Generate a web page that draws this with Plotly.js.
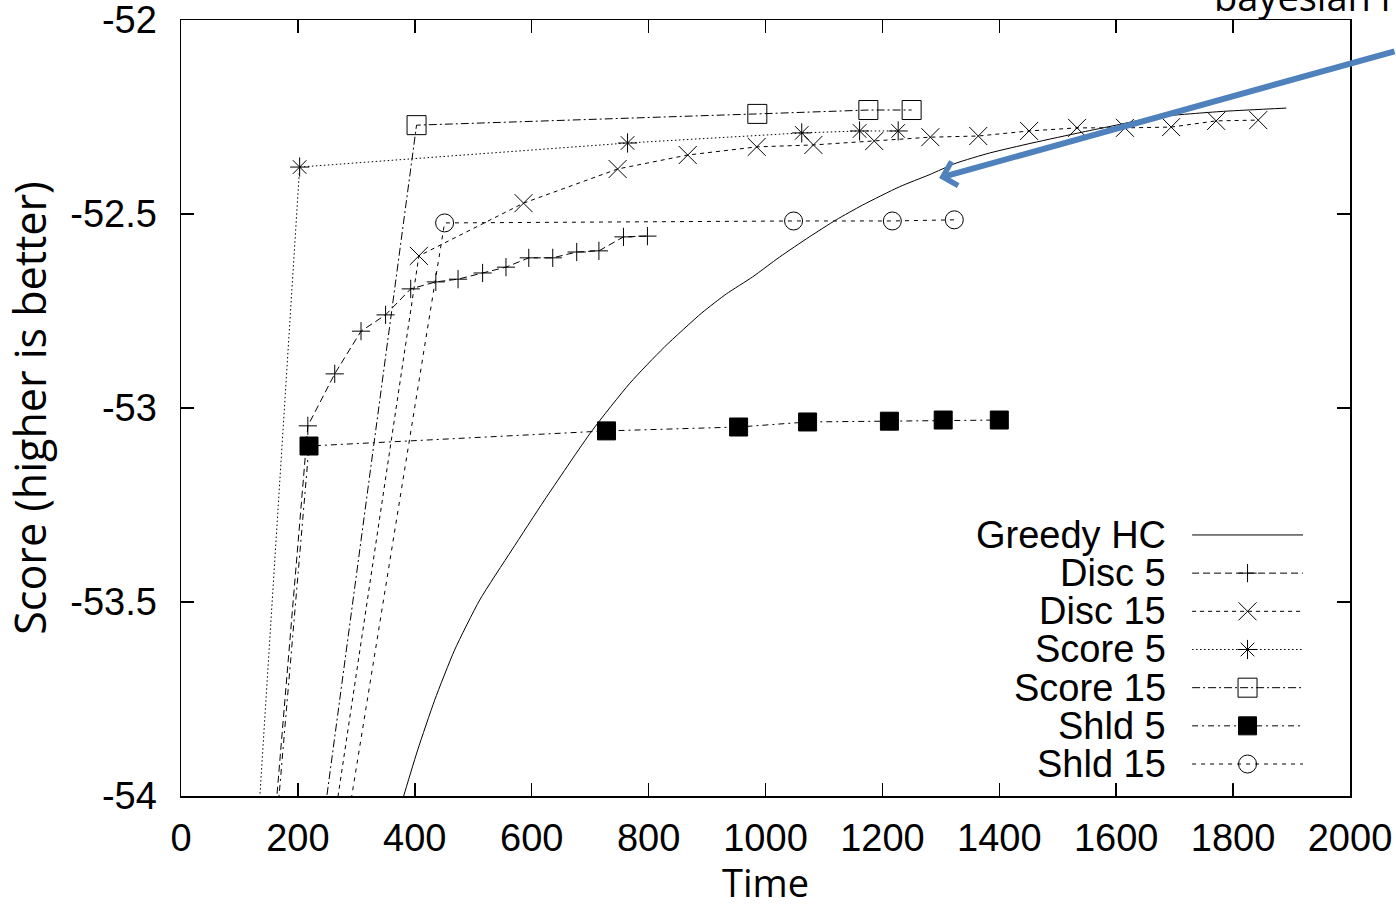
<!DOCTYPE html>
<html><head><meta charset="utf-8">
<script src="https://cdn.plot.ly/plotly-3.0.1.min.js"></script>
<style>html,body{margin:0;padding:0;background:#fff}</style>
</head><body>
<div id="chart" style="width:1396px;height:908px"></div>
<script>
// ---- data ----
const seriesNames = ["Greedy HC", "Disc 5", "Disc 15", "Score 5", "Score 15", "Shld 5", "Shld 15"];

const greedyTime  = [359, 381, 405, 434, 468, 511, 566, 622, 703, 768, 827, 891, 933, 978, 1024, 1075, 1121, 1166, 1229, 1280, 1326, 1383, 1456, 1542, 1600, 1668, 1742, 1788, 1891];
const greedyScore = [-54.116, -54.000, -53.881, -53.753, -53.624, -53.495, -53.366, -53.237, -53.059, -52.936, -52.843, -52.755, -52.706, -52.662, -52.611, -52.559, -52.515, -52.477, -52.430, -52.399, -52.369, -52.343, -52.317, -52.289, -52.271, -52.250, -52.240, -52.235, -52.227];

const disc5Time  = [53, 217, 263, 308, 350, 393, 436, 474, 516, 556, 595, 636, 677, 715, 757, 798];
const disc5Score = [-56, -53.046, -52.912, -52.802, -52.760, -52.693, -52.675, -52.668, -52.652, -52.637, -52.613, -52.613, -52.598, -52.595, -52.559, -52.557];

const disc15Time  = [70, 407, 586, 747, 867, 985, 1082, 1186, 1282, 1364, 1451, 1533, 1615, 1694, 1771, 1843];
const disc15Score = [-56, -52.608, -52.472, -52.384, -52.348, -52.327, -52.322, -52.312, -52.302, -52.299, -52.286, -52.278, -52.278, -52.276, -52.260, -52.258];

const score5Time  = [51, 203, 764, 1062, 1161, 1227];
const score5Score = [-56, -52.379, -52.317, -52.291, -52.286, -52.286];

const score15Time  = [72, 403, 986, 1176, 1250];
const score15Score = [-56, -52.271, -52.242, -52.232, -52.232];

const shld5Time  = [54, 219, 728, 954, 1072, 1212, 1304, 1400];
const shld5Score = [-56, -53.098, -53.059, -53.049, -53.036, -53.034, -53.031, -53.031];

const shld15Time  = [77, 451, 1048, 1217, 1323];
const shld15Score = [-56, -52.523, -52.518, -52.518, -52.515];

const xTickVals = [0, 200, 400, 600, 800, 1000, 1200, 1400, 1600, 1800, 2000];
const xTickText = ["0", "200", "400", "600", "800", "1000", "1200", "1400", "1600", "1800", "2000"];
const yTickVals = [-54, -53.5, -53, -52.5, -52];
const yTickText = ["-54", "-53.5", "-53", "-52.5", "-52"];

// ---- styles ----
const seriesX = [greedyTime, disc5Time, disc15Time, score5Time, score15Time, shld5Time, shld15Time];
const seriesY = [greedyScore, disc5Score, disc15Score, score5Score, score15Score, shld5Score, shld15Score];
const dashes  = ["solid", "7px,4px", "4px,4px", "1.5px,2.5px", "8px,3px,2px,3px", "6px,4px,2px,4px", "4px,5px"];
const symbols = [null, "cross-thin-open", "x-thin-open", "asterisk-open", "square-open", "square", "circle-open"];
const sizes   = [0, 13, 18, 16, 19, 18, 18];

const traces = [];
seriesNames.forEach((name, i) => {
  const t = {
    x: seriesX[i], y: seriesY[i], name: name, type: "scatter",
    mode: symbols[i] ? "lines+markers" : "lines",
    line: {color: "#000", width: 1, dash: dashes[i]},
    showlegend: false, hoverinfo: "skip"
  };
  if (!symbols[i]) { t.line.shape = "spline"; t.line.smoothing = 0.6; }
  if (symbols[i]) t.marker = {symbol: symbols[i], size: sizes[i], color: "#000", line: {color: "#000", width: 1}};
  traces.push(t);
});

// legend keys drawn in an overlay frame (index = row)
seriesNames.forEach((name, i) => {
  traces.push({x: [0, 1], y: [i, i], xaxis: "x2", yaxis: "y2", type: "scatter", mode: "lines",
    line: {color: "#000", width: 1, dash: dashes[i]}, showlegend: false, hoverinfo: "skip"});
  if (symbols[i]) traces.push({x: [0.5], y: [i], xaxis: "x2", yaxis: "y2", type: "scatter", mode: "markers",
    marker: {symbol: symbols[i], size: sizes[i], color: "#000", line: {color: "#000", width: 1}},
    showlegend: false, hoverinfo: "skip"});
});

const annotations = seriesNames.map((name, i) => ({
  xref: "x2", yref: "y2", x: 0, y: i, xanchor: "right", yanchor: "middle", xshift: -24,
  text: name, showarrow: false, font: {family: "Liberation Sans, Arial, sans-serif", size: 38, color: "#000"}
}));
annotations.push({
  xref: "x", yref: "y", x: 1297, y: -52.407, ax: 480, ay: -127, axref: "pixel", ayref: "pixel",
  showarrow: true, arrowhead: 4, arrowsize: 0.8, arrowwidth: 6, arrowcolor: "#4F81BD", text: ""
});
annotations.push({
  xref: "paper", yref: "paper", x: 0.882, y: 1.0, xanchor: "left", yanchor: "bottom", yshift: -4,
  text: "bayesian network", showarrow: false, font: {family: "Open Sans, sans-serif", size: 38, color: "#000"}
});

const axisCommon = {
  showline: true, linecolor: "#000", linewidth: 1.5, mirror: "allticks",
  ticks: "inside", ticklen: 13, tickwidth: 1.5, tickcolor: "#000",
  showgrid: false, zeroline: false, tickmode: "array", ticklabeloverflow: "allow",
  tickfont: {family: "Liberation Sans, Arial, sans-serif", size: 38, color: "#000"}
};

const layout = {
  width: 1396, height: 908,
  margin: {l: 181, r: 46, t: 20, b: 112},
  paper_bgcolor: "#fff", plot_bgcolor: "#fff",
  showlegend: false,
  xaxis: Object.assign({}, axisCommon, {
    range: [0, 2000], tickvals: xTickVals, ticktext: xTickText, ticklabelstandoff: 8,
    title: {text: "Time", standoff: 25, font: {family: "Open Sans, sans-serif", size: 38, color: "#000"}}
  }),
  yaxis: Object.assign({}, axisCommon, {
    range: [-54, -52], tickvals: yTickVals, ticktext: yTickText, ticklabelstandoff: 15,
    title: {text: "Score (higher is better)", standoff: 12, font: {family: "Open Sans, sans-serif", size: 43, color: "#000"}}
  }),
  xaxis2: {domain: [0.8649, 0.9598], anchor: "y2", range: [0, 1], visible: false, fixedrange: true},
  yaxis2: {domain: [0.0166, 0.3610], anchor: "x2", range: [6.5, -0.5], visible: false, fixedrange: true},
  annotations: annotations
};

Plotly.newPlot("chart", traces, layout, {displayModeBar: false, staticPlot: true});
</script>
</body></html>
